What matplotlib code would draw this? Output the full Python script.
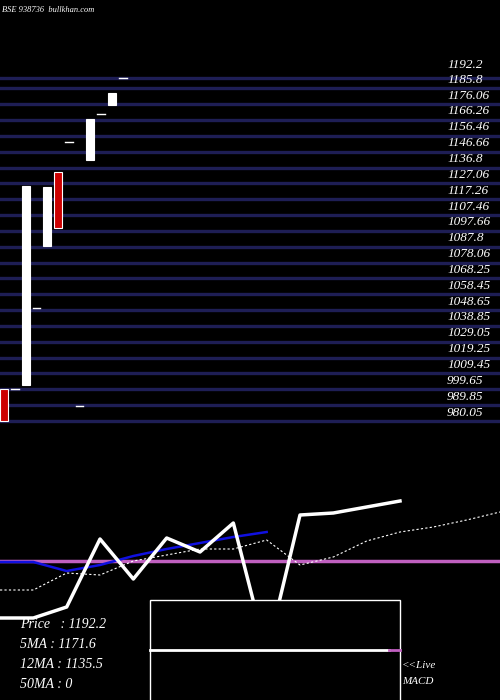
import matplotlib as mpl
mpl.use('Agg')
import matplotlib.pyplot as plt
from matplotlib.patches import Rectangle

# candles (open, close); open == close draws a dash
opens = [1000.0, 999.8, 1002.3, 1050.0, 1088.3, 1134.0, 1152.6, 989.3, 1141.5, 1170.0, 1175.5, 1192.2]
closes = [980.0, 999.8, 1125.4, 1050.0, 1124.8, 1099.4, 1152.6, 989.3, 1166.8, 1170.0, 1182.9, 1192.2]

levels = [1192.2, 1185.8, 1176.06, 1166.26, 1156.46, 1146.66, 1136.8, 1127.06, 1117.26,
          1107.46, 1097.66, 1087.8, 1078.06, 1068.25, 1058.45, 1048.65, 1038.85,
          1029.05, 1019.25, 1009.45, 999.65, 989.85, 980.05]
level_labels = ["1192.2", "1185.8", "1176.06", "1166.26", "1156.46", "1146.66", "1136.8",
                "1127.06", "1117.26", "1107.46", "1097.66", "1087.8", "1078.06", "1068.25",
                "1058.45", "1048.65", "1038.85", "1029.05", "1019.25", "1009.45", "999.65",
                "989.85", "980.05"]

# lower indicator panel
price_line = [82, 82, 93, 161, 121, 162, 148, 177, 60, 60, 185, 187, 193, 199]
price_x = [0, 1, 2, 3, 4, 5, 6, 7, 7.9, 8.1, 9, 10, 11, 12]
blue_line = [138, 138, 129, 135, 144, 151, 157, 163, 168]
dotted_line = [110, 110, 127, 125, 139, 145, 151, 151, 160, 135, 143, 159, 168, 173, 180, 188]
zero_level = 139.5

fig = plt.figure(figsize=(5, 7), dpi=100, facecolor='black')

ax = fig.add_axes([0, 260 / 700, 1, 440 / 700])
ax.set_facecolor('black')
ax.set_xlim(-0.37, 45.9)
ax.set_ylim(968.3, 1240.4)
ax.axis('off')
for lv, lb in zip(levels, level_labels):
    ax.axhline(lv, color='#1e1e55', lw=2.4, zorder=1)
    off = 4.0 if lb == "1192.2" else 1.5
    ax.text(41.0, lv + off, lb, color='white', fontsize=9.5, family='Liberation Serif',
            style='italic', va='bottom', ha='left', zorder=3)
for i, (o, c) in enumerate(zip(opens, closes)):
    if o == c:
        ax.plot([i - 0.35, i + 0.35], [o, o], color='white', lw=1, zorder=2)
    else:
        col = 'white' if c > o else '#cc0000'
        ax.add_patch(Rectangle((i - 0.37, min(o, c)), 0.74, abs(c - o), facecolor=col,
                               edgecolor='white', lw=0.8, zorder=2))
ax.text(-0.2, 1234, "BSE 938736  bullkhan.com", color='white', fontsize=6,
        family='Liberation Serif', style='italic', va='center')

bx = fig.add_axes([0, 0, 1, 260 / 700])
bx.set_facecolor('black')
bx.set_xlim(0, 15)
bx.set_ylim(0, 260)
bx.axis('off')
bx.axhline(zero_level, color='#c060c0', lw=2.5, zorder=1)
bx.plot(range(len(dotted_line)), dotted_line, color='white', lw=0.8, ls=(0, (2, 2)), zorder=2)
bx.plot(range(len(blue_line)), blue_line, color='#1010e0', lw=1.8, zorder=2)
bx.plot(price_x, price_line, color='white', lw=2.5, zorder=3)
bx.add_patch(Rectangle((4.5, -2), 7.5, 102, facecolor='black', edgecolor='white', lw=1, zorder=4))
bx.plot([4.5, 11.67], [50, 50], color='white', lw=2, zorder=5)
bx.plot([11.67, 12], [50, 50], color='#c060c0', lw=2, zorder=5)
for k, s in enumerate(["Price   : 1192.2", "5MA : 1171.6", "12MA : 1135.5", "50MA : 0"]):
    bx.text(0.6, 75 - 20 * k, s, color='white', fontsize=10, family='Liberation Serif',
            style='italic', va='center', zorder=6)
bx.text(12.05, 34, "<<Live", color='white', fontsize=8, family='Liberation Serif', style='italic', va='center')
bx.text(12.05, 19, "MACD", color='white', fontsize=8, family='Liberation Serif', style='italic', va='center')

fig.savefig('out.png', facecolor='black')
